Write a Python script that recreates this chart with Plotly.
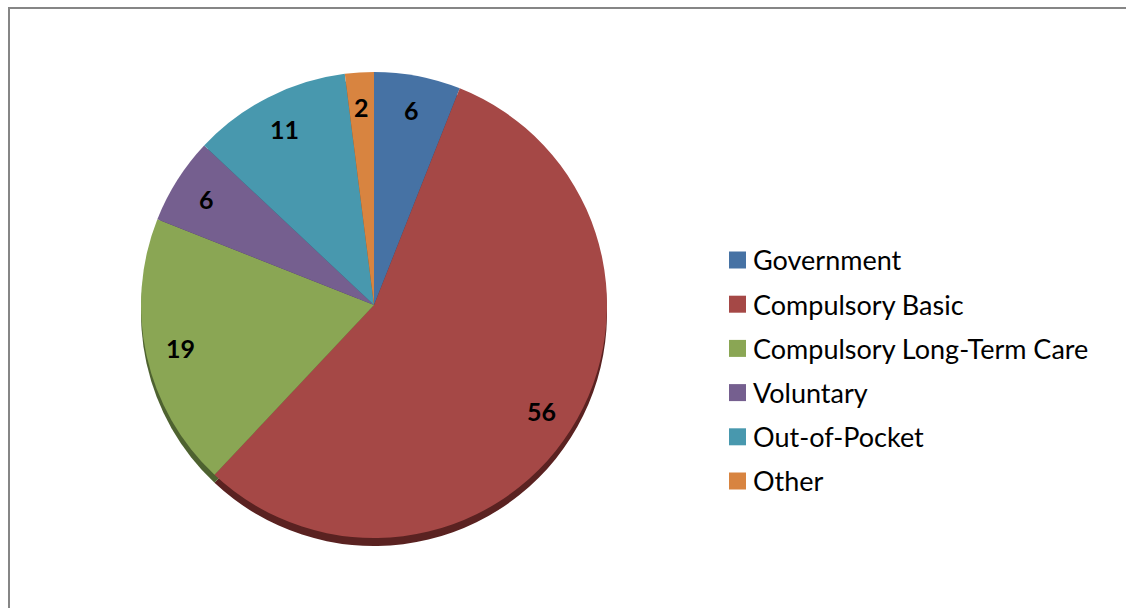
import math
import plotly.graph_objects as go

# Health spending by source of financing (percent of total)
categories = ["Government", "Compulsory Basic", "Compulsory Long-Term Care",
              "Voluntary", "Out-of-Pocket", "Other"]
shares = [6, 56, 19, 6, 11, 2]
colors = ["#4672A4", "#A54846", "#8AA654", "#755F8F", "#4898AE", "#D88440"]
edge_colors = ["#2A4466", "#5A2221", "#4E6230", "#43345A", "#285A68", "#7A4A22"]

W, H = 1126, 608
FONT = "Lato"

# pie geometry in pixels
cx, cy, R = 374, 305, 233
depth = 8  # thickness of the tilted rim


def px_to_paper(x, y):
    return x / W, 1 - y / H


x0, _ = px_to_paper(cx - R, 0)
x1, _ = px_to_paper(cx + R, 0)
_, y_top = px_to_paper(0, cy - R)
_, y_bot = px_to_paper(0, cy + R)
dy = depth / H

fig = go.Figure()

# darker copy underneath, shifted down, gives the rim of the 3-D pie
fig.add_trace(go.Pie(
    labels=categories, values=shares, sort=False, direction="clockwise",
    rotation=0, textinfo="none", hoverinfo="skip", showlegend=False,
    marker=dict(colors=edge_colors, line=dict(width=0)),
    domain=dict(x=[x0, x1], y=[y_bot - dy, y_top - dy]),
))

fig.add_trace(go.Pie(
    labels=categories, values=shares, sort=False, direction="clockwise",
    rotation=0, textinfo="none", showlegend=False,
    marker=dict(colors=colors, line=dict(width=0)),
    domain=dict(x=[x0, x1], y=[y_bot, y_top]),
))

# value labels placed near the outer edge of each slice
total = sum(shares)
cum = 0
annotations = []
for v in shares:
    mid = (cum + v / 2) / total * 2 * math.pi
    cum += v
    rl = 0.85 * R
    lx = cx + rl * math.sin(mid)
    ly = cy - rl * math.cos(mid)
    px, py = px_to_paper(lx, ly)
    annotations.append(dict(
        x=px, y=py, xref="paper", yref="paper", text=f"<b>{v}</b>",
        showarrow=False, xanchor="center", yanchor="middle",
        font=dict(family=FONT, size=25, color="black"),
    ))

# legend: colour swatch plus category name
shapes = []
leg_x, leg_y0, leg_step, sw = 729, 260, 44.2, 17
for i, (name, col) in enumerate(zip(categories, colors)):
    yc = leg_y0 + i * leg_step
    ax0, ay0 = px_to_paper(leg_x, yc + sw / 2)
    ax1, ay1 = px_to_paper(leg_x + sw, yc - sw / 2)
    shapes.append(dict(type="rect", xref="paper", yref="paper",
                       x0=ax0, x1=ax1, y0=ay0, y1=ay1,
                       fillcolor=col, line=dict(width=0)))
    tx, ty = px_to_paper(leg_x + sw + 5, yc)
    annotations.append(dict(
        x=tx, y=ty, xref="paper", yref="paper", text=name,
        showarrow=False, xanchor="left", yanchor="middle",
        font=dict(family=FONT, size=27, color="black"),
    ))

# chart frame
fx0, fy0 = px_to_paper(9, 8)
shapes.append(dict(type="rect", xref="paper", yref="paper",
                   x0=fx0, x1=1.05, y0=-0.05, y1=fy0,
                   line=dict(color="#868686", width=2), fillcolor="rgba(0,0,0,0)"))

fig.update_layout(
    width=W, height=H, autosize=False,
    margin=dict(l=0, r=0, t=0, b=0),
    paper_bgcolor="white", plot_bgcolor="white",
    annotations=annotations, shapes=shapes,
    font=dict(family=FONT),
)

fig.write_html("out.html")
